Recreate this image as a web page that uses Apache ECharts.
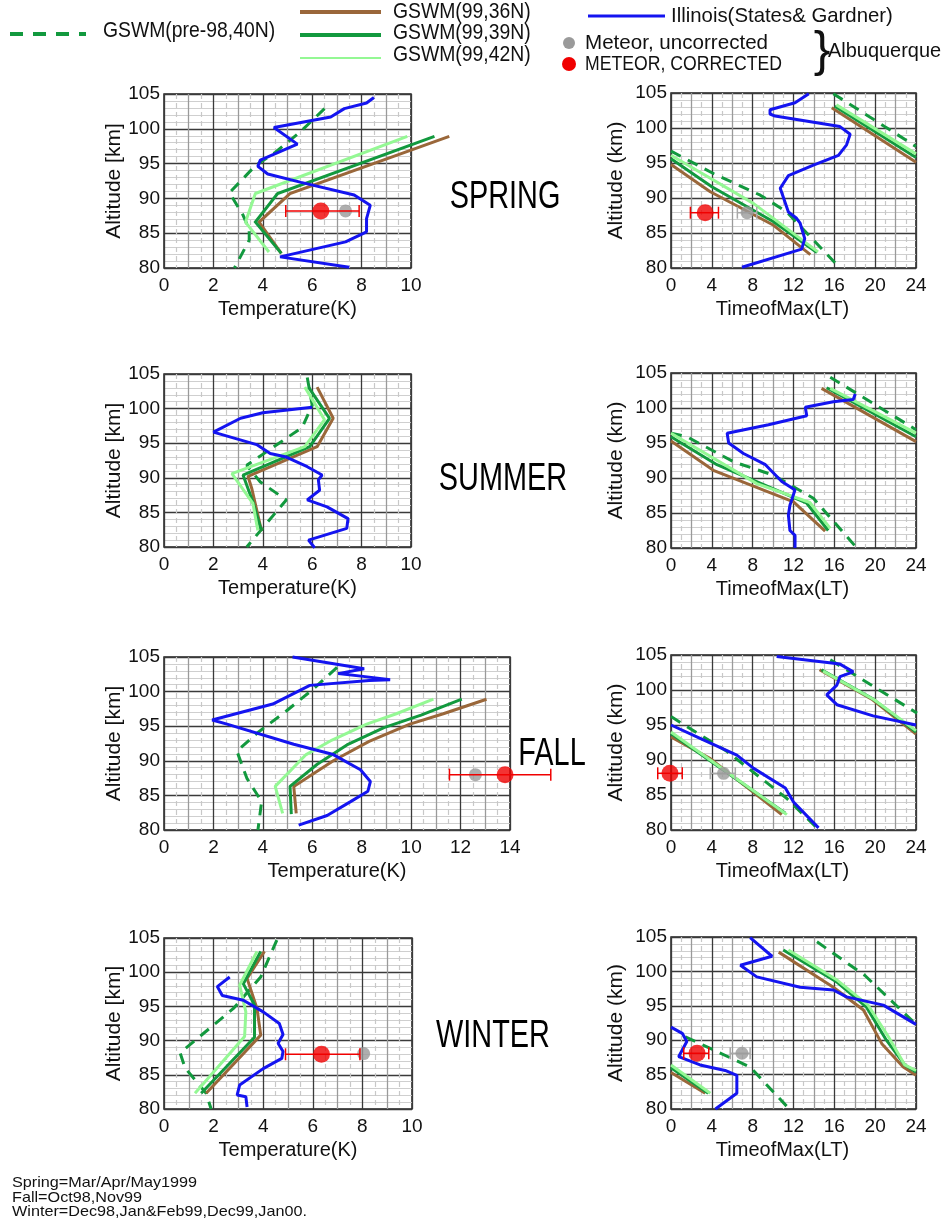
<!DOCTYPE html>
<html><head><meta charset="utf-8">
<script src="https://cdn.jsdelivr.net/npm/echarts@6/dist/echarts.min.js"></script>
<style>html,body{margin:0;padding:0;background:#fff}#c{width:948px;height:1225px}</style>
</head><body><div id="c"></div>
<script>
// ---------------- DATA ----------------
const seasonLabels = ['SPRING', 'SUMMER', 'FALL', 'WINTER'];
const tempTicks = [0, 2, 4, 6, 8, 10, 12, 14];
const timeTicks = [0, 4, 8, 12, 16, 20, 24];
const altitudeTicks = [80, 85, 90, 95, 100, 105];

// Spring, temperature amplitude [K, km]
const springTempIllinois = [[8.5,104.5],[8.2,103.7],[7.3,102.9],[6.75,101.7],[4.45,100.2],[5.4,97.8],[3.9,95.5],[3.8,94.6],[4.2,93.5],[5.55,92.3],[7.7,90.5],[8.35,89.0],[8.2,87.1],[8.2,85.2],[7.35,83.75],[4.7,81.6],[7.5,80.1]];
const springTempPre98 = [[6.5,102.9],[5.5,99.5],[4.5,96.6],[3.7,94.7],[2.65,90.8],[3.2,87.6],[3.45,85.5],[3.45,84],[2.85,80]];
const springTemp36N = [[11.55,98.9],[5.1,90.7],[3.85,86.6],[4.75,82.1]];
const springTemp39N = [[10.95,98.9],[4.6,90.7],[3.7,86.6],[4.75,82.1]];
const springTemp42N = [[9.85,98.9],[3.7,90.7],[3.3,86.6],[4.25,82.3]];
const springTempCorrected = [6.35, 88.2, 4.93, 7.9];
const springTempUncorrected = [7.35, 88.2];

// Spring, time of max [LT, km]  (segments)
const springTimeIllinois = [[[13.5,104.9],[12.15,103.6],[9.7,102.6],[9.7,102.0],[10.2,101.7],[16.55,100.2],[17.55,99.1],[17.2,97.6],[16.4,96.1],[13.95,94.7],[11.5,93.2],[10.7,91.4],[11.5,88.0],[12.3,87.1],[12.65,86.4],[13.1,84.2],[12.8,82.7],[6.95,80.1]]];
const springTime36N = [[[0,94.8],[3.85,90.9],[10.05,86.1],[13.65,81.9]],[[15.75,102.9],[24,95.1]]];
const springTime39N = [[[0,95.6],[4.0,91.6],[10.05,86.6],[14.3,82.2]],[[16.05,103.1],[24,95.8]]];
const springTime42N = [[[0,96.1],[8.1,89.2],[14.4,82.3]],[[16.2,103.3],[24,96.3]]];
const springTimePre98 = [[[0,96.7],[4.15,93.5],[8.75,90.4],[11.35,88],[16.55,80]],[[15.9,104.9],[24,97.35]]];
const springTimeCorrected = [3.35, 87.9, 1.9, 4.65];
const springTimeUncorrected = [7.45, 87.9, 6.5, 8.4];

// Summer, temperature
const summerTempIllinois = [[6.0,100.2],[4.0,99.4],[3.1,98.6],[2.0,96.6],[3.75,94.8],[4.3,93.5],[4.95,93.0],[5.8,91.6],[6.4,90.4],[6.25,89.7],[6.3,88.2],[5.8,86.8],[6.6,85.8],[7.45,84.1],[7.4,82.7],[5.85,81.0],[6.1,79.9]];
const summerTempPre98 = [[5.8,104.5],[6.0,100.5],[5.6,97.3],[4.7,95.1],[3.35,91.8],[3.9,89.4],[4.95,86.8],[3.35,80]];
const summerTemp36N = [[6.2,103.1],[6.85,98.6],[6.2,94.5],[3.4,90.2],[3.55,88.5],[3.95,82.3]];
const summerTemp39N = [[5.85,103.1],[6.7,98.6],[5.9,94.5],[3.2,90.4],[3.6,86.5],[3.95,82.3]];
const summerTemp42N = [[5.7,103.1],[6.5,98.4],[5.7,94.5],[2.75,90.6],[3.6,86.3],[3.8,82.4]];

// Summer, time of max
const summerTimeIllinois = [[[18.05,102.0],[17.85,101.2],[15.9,100.9],[13.15,100.1],[13.3,98.9],[9.55,97.6],[5.5,96.4],[5.65,95.0],[7.1,93.5],[9.25,91.9],[10.85,89.5],[12.15,88.3],[11.65,86.1],[11.5,84.7],[11.65,82.5],[12.15,81.8],[12.15,80]]];
const summerTime36N = [[[0,95.3],[4.15,91.1],[12.0,86.6],[15.1,82.4]],[[14.75,102.8],[24,95.2]]];
const summerTime39N = [[[0,95.9],[4.5,91.9],[13.3,86.4],[15.4,82.5]],[[15.25,102.9],[24,95.9]]];
const summerTime42N = [[[0,96.4],[8.4,89.2],[13.6,86.5],[15.6,82.8]],[[15.6,102.8],[24,96.4]]];
const summerTimePre98 = [[[0,96.4],[1.55,95.9],[6.15,92.3],[10.05,90.4],[13.95,87.1],[18.2,80]],[[15.6,104.4],[24,96.9]]];

// Fall, temperature
const fallTempIllinois = [[5.2,105],[8.1,103.3],[7.05,102.6],[8.05,102.2],[9.15,101.7],[8.3,101.6],[5.9,100.9],[4.4,98.2],[1.95,95.9],[2.55,95.3],[5.25,92.4],[6.85,90.9],[7.95,88.7],[8.35,87.0],[8.25,85.6],[7.55,84.1],[6.6,82.1],[5.45,80.7]];
const fallTempPre98 = [[7.0,103.5],[6.05,100.4],[4.95,97.2],[3.8,94.1],[2.95,91.4],[3.35,87.5],[3.95,84.1],[3.8,80]];
const fallTemp36N = [[13.05,98.9],[11.3,96.8],[9.95,95.3],[8.3,92.8],[6.85,90.0],[5.25,86.3],[5.35,82.4]];
const fallTemp39N = [[12.05,98.9],[10.4,96.6],[8.9,94.8],[7.4,92.3],[6.2,89.5],[5.1,86.3],[5.15,82.3]];
const fallTemp42N = [[10.9,98.9],[9.4,96.8],[8.2,95.3],[6.8,93.0],[5.75,90.9],[4.5,86.3],[4.8,82.4]];
const fallTempCorrected = [13.8, 88.0, 11.55, 15.65];
const fallTempUncorrected = [12.6, 88.0];

// Fall, time of max
const fallTimeIllinois = [[[0,95.0],[2.85,93.1],[6.45,90.7],[8.1,88.8],[11.2,86.0],[12.0,84.0],[14.45,80.3]],[[10.35,104.8],[16.55,103.7],[17.85,102.6],[16.55,101.9],[16.25,100.7],[15.25,99.3],[16.25,97.9],[19.8,96.3],[24,95.0]]];
const fallTime36N = [[[0,93.3],[3.85,90.2],[10.85,82.2]],[[14.55,102.9],[19.75,98.6],[24,93.7]]];
const fallTime39N = [[[0,93.8],[11.2,82.4]],[[14.75,102.9],[19.8,98.7],[24,94.0]]];
const fallTime42N = [[[0,94.0],[11.35,82.2]],[[14.9,102.7],[19.9,98.6],[24,94.2]]];
const fallTimePre98 = [[[0,96.2],[5.5,91.2],[11.35,84.5],[14.3,80.3]],[[15.6,104.3],[24.1,96.7]]];
const fallTimeCorrected = [-0.1, 88.1, -1.3, 1.1];
const fallTimeUncorrected = [5.15, 88.1, 3.85, 6.3];

// Winter, temperature
const winterTempIllinois = [[2.65,99.3],[2.15,97.9],[2.35,96.6],[3.2,95.9],[4.0,94.2],[4.65,92.5],[4.8,90.9],[4.6,89.6],[4.8,88.4],[4.75,87.4],[4.0,85.9],[3.05,83.5],[2.95,82.05],[3.3,81.8],[3.35,80.3]];
const winterTempPre98 = [[4.55,104.7],[3.9,99.3],[2.8,94.7],[0.65,88.2],[0.85,86.0],[1.7,82.3],[1.9,80]];
const winterTemp36N = [[4.05,103.05],[3.35,99.1],[3.75,94.7],[3.9,90.8],[1.7,82.3]];
const winterTemp39N = [[3.9,103.05],[3.2,98.3],[3.65,95.2],[3.65,90.5],[1.5,82.3]];
const winterTemp42N = [[3.75,103.05],[3.05,98.1],[3.3,94.2],[3.25,90.6],[1.25,82.3]];
const winterTempCorrected = [6.35, 88.0, 4.9, 7.9];
const winterTempUncorrected = [8.05, 88.1];

// Winter, time of max
const winterTimeIllinois = [[[7.75,104.9],[9.9,102.2],[6.8,100.9],[8.4,99.2],[12.65,97.7],[15.9,97.3],[17.2,96.3],[20.8,95.1],[24,92.3]],[[0,91.9],[1.1,91.0],[1.55,89.8],[0.75,87.6],[2.85,86.4],[5.3,85.6],[6.45,84.9],[6.45,82.3],[4.35,80]]];
const winterTime36N = [[[0,85.3],[3.35,82.3]],[[10.55,102.8],[15.9,97.7],[18.85,94.4],[20.65,89.5],[22.75,86.1],[24,84.9]]];
const winterTime39N = [[[0,86.0],[3.65,82.3]],[[11.0,103.1],[16.2,98.5],[19.15,94.8],[21.1,90.0],[22.9,86.4],[24,85.4]]];
const winterTime42N = [[[0,86.4],[3.85,82.3]],[[11.5,103.1],[16.3,98.7],[19.3,95.1],[21.3,90.5],[22.9,86.4],[24,85.6]]];
const winterTimePre98 = [[[1.4,90.5],[7.75,86.1],[11.65,79.9]],[[14.3,104.3],[19.0,99.4],[24,92.3]]];
const winterTimeCorrected = [2.55, 88.1, 1.25, 3.7];
const winterTimeUncorrected = [6.95, 88.1, 5.8, 7.75];

const footnotes = ['Spring=Mar/Apr/May1999', 'Fall=Oct98,Nov99', 'Winter=Dec98,Jan&Feb99,Dec99,Jan00.'];

// ---------------- BUILD ----------------
const C = { pre98: '#12993e', n36: '#9a673a', n39: '#12993e', n42: '#94f894', ill: '#1414f0', red: '#f00000', gray: '#9a9a9a' };
const FONT = "'Liberation Sans', Arial, sans-serif";

const panels = [
  { kind:'temp', grid:{left:164,top:94,width:247,height:174}, max:10, pre:[springTempPre98], n36:[springTemp36N], n39:[springTemp39N], n42:[springTemp42N], ill:[springTempIllinois], cor:springTempCorrected, unc:springTempUncorrected },
  { kind:'time', grid:{left:671,top:93,width:245,height:175}, max:24, pre:springTimePre98, n36:springTime36N, n39:springTime39N, n42:springTime42N, ill:springTimeIllinois, cor:springTimeCorrected, unc:springTimeUncorrected },
  { kind:'temp', grid:{left:164,top:374,width:247,height:173}, max:10, pre:[summerTempPre98], n36:[summerTemp36N], n39:[summerTemp39N], n42:[summerTemp42N], ill:[summerTempIllinois] },
  { kind:'time', grid:{left:671,top:373,width:245,height:175}, max:24, pre:summerTimePre98, n36:summerTime36N, n39:summerTime39N, n42:summerTime42N, ill:summerTimeIllinois },
  { kind:'temp', grid:{left:164,top:657,width:346,height:173}, max:14, pre:[fallTempPre98], n36:[fallTemp36N], n39:[fallTemp39N], n42:[fallTemp42N], ill:[fallTempIllinois], cor:fallTempCorrected, unc:fallTempUncorrected },
  { kind:'time', grid:{left:671,top:655,width:245,height:175}, max:24, pre:fallTimePre98, n36:fallTime36N, n39:fallTime39N, n42:fallTime42N, ill:fallTimeIllinois, cor:fallTimeCorrected, unc:fallTimeUncorrected },
  { kind:'temp', grid:{left:164,top:938,width:248,height:171}, max:10, pre:[winterTempPre98], n36:[winterTemp36N], n39:[winterTemp39N], n42:[winterTemp42N], ill:[winterTempIllinois], cor:winterTempCorrected, unc:winterTempUncorrected },
  { kind:'time', grid:{left:671,top:937,width:245,height:172}, max:24, pre:winterTimePre98, n36:winterTime36N, n39:winterTime39N, n42:winterTime42N, ill:winterTimeIllinois, cor:winterTimeCorrected, unc:winterTimeUncorrected }
];

const grids = [], xAxes = [], yAxes = [], series = [];

function errRender(color, lw, cap) {
  return function (params, api) {
    const a = api.coord([api.value(0), api.value(2)]);
    const b = api.coord([api.value(1), api.value(2)]);
    const st = { stroke: color, lineWidth: lw };
    return { type: 'group', children: [
      { type: 'line', shape: { x1: a[0], y1: a[1], x2: b[0], y2: b[1] }, style: st },
      { type: 'line', shape: { x1: a[0], y1: a[1] - cap, x2: a[0], y2: a[1] + cap }, style: st },
      { type: 'line', shape: { x1: b[0], y1: b[1] - cap, x2: b[0], y2: b[1] + cap }, style: st }
    ]};
  };
}

panels.forEach((p, i) => {
  grids.push(Object.assign({ show: true, borderColor: '#222', borderWidth: 1.5, backgroundColor: '#fff', z: 0 }, p.grid));
  const isTemp = p.kind === 'temp';
  const ticks = isTemp ? tempTicks : timeTicks;
  xAxes.push({
    type: 'value', gridIndex: i, min: 0, max: p.max, interval: isTemp ? 1 : 2,
    name: isTemp ? 'Temperature(K)' : 'TimeofMax(LT)', nameLocation: 'middle', nameGap: 31,
    nameTextStyle: { fontFamily: FONT, fontSize: 20, color: '#111', padding: isTemp ? 0 : [0, 22, 0, 0] },
    axisLine: { show: false }, axisTick: { show: false },
    axisLabel: { fontFamily: FONT, fontSize: 19, color: '#111', margin: 8,
      formatter: v => (ticks.indexOf(v) >= 0 ? String(v) : '') },
    splitLine: { show: true, lineStyle: { color: ['#3a3a3a', '#9a9a9a'], width: 1.3 } },
    minorTick: { show: false, splitNumber: 2 },
    minorSplitLine: { show: true, lineStyle: { color: '#c8c8c8', width: 1.2, type: [5, 4] } }
  });
  yAxes.push({
    type: 'value', gridIndex: i, min: 80, max: 105, interval: 5,
    name: isTemp ? 'Altitude [km]' : 'Altitude (km)', nameLocation: 'middle', nameGap: isTemp ? 38 : 44,
    nameTextStyle: { fontFamily: FONT, fontSize: 21, color: '#111' },
    axisLine: { show: false }, axisTick: { show: false },
    axisLabel: { fontFamily: FONT, fontSize: 19, color: '#111', margin: 4,
      formatter: v => (altitudeTicks.indexOf(v) >= 0 ? String(v) : '') },
    splitLine: { show: true, lineStyle: { color: '#3a3a3a', width: 1.3 } },
    minorTick: { show: false, splitNumber: 5 },
    minorSplitLine: { show: true, lineStyle: { color: '#cfcfcf', width: 1 } }
  });
  const addLines = (segs, color, width, dash, z) => {
    segs.forEach(seg => {
      const overflow = seg.some(pt => pt[0] < 0 || pt[0] > p.max);
      if (!overflow) {
        series.push({
          type: 'line', xAxisIndex: i, yAxisIndex: i, data: seg, showSymbol: false, symbol: 'none',
          clip: false, z: z, silent: true, animation: false,
          lineStyle: { color: color, width: width, type: dash ? dash : 'solid' }
        });
      } else {
        // segment runs past the axis end: draw it unclipped through the axis coordinates
        series.push({
          type: 'custom', xAxisIndex: i, yAxisIndex: i, data: seg, z: z, silent: true, animation: false, clip: false,
          renderItem: (params, api) => params.dataIndex !== 0 ? null : {
            type: 'polyline', shape: { points: seg.map(pt => api.coord(pt)) },
            style: { stroke: color, lineWidth: width, fill: null, lineDash: dash || null }
          }
        });
      }
    });
  };
  addLines(p.pre, C.pre98, 3, [11, 8], 3);
  addLines(p.n36, C.n36, 3, null, 4);
  addLines(p.n39, C.n39, 3, null, 5);
  addLines(p.n42, C.n42, 3, null, 6);
  addLines(p.ill, C.ill, 3, null, 7);
  if (p.unc) {
    if (p.unc.length > 2) {
      series.push({ type: 'custom', xAxisIndex: i, yAxisIndex: i, z: 8, clip: false, animation: false,
        data: [[p.unc[2], p.unc[3], p.unc[1]]], renderItem: errRender('#a8a8a8', 1.5, 6) });
    }
    series.push({ type: 'scatter', xAxisIndex: i, yAxisIndex: i, z: 9, clip: false, animation: false,
      data: [[p.unc[0], p.unc[1]]], symbol: 'circle', symbolSize: 13, itemStyle: { color: C.gray } });
  }
  if (p.cor) {
    series.push({ type: 'custom', xAxisIndex: i, yAxisIndex: i, z: 10, clip: false, animation: false,
      data: [[p.cor[2], p.cor[3], p.cor[1]]], renderItem: errRender(C.red, 1.5, 6) });
    series.push({ type: 'scatter', xAxisIndex: i, yAxisIndex: i, z: 11, clip: false, animation: false,
      data: [[p.cor[0], p.cor[1]]], symbol: 'circle', symbolSize: 17, itemStyle: { color: C.red } });
  }
});

const titlePos = [[505, 198], [503, 480], [552, 755], [493, 1037]];
const graphic = [];
seasonLabels.forEach((s, k) => graphic.push({ type: 'text', x: titlePos[k][0], y: titlePos[k][1], z: 20, scaleX: 0.76,
  style: { text: s, fill: '#000', font: "38px " + FONT, textAlign: 'center', textVerticalAlign: 'middle' } }));

// legend
const legTxt = (t, x, y, size, sx) => ({ type: 'text', x: x, y: y, z: 20, scaleX: sx || 0.9,
  style: { text: t, fill: '#111', font: (size || 20) + 'px ' + FONT, textAlign: 'left', textVerticalAlign: 'middle' } });
const legLine = (x1, y, x2, color, w, dash) => ({ type: 'line', z: 20,
  shape: { x1: x1, y1: y, x2: x2, y2: y }, style: { stroke: color, lineWidth: w, lineDash: dash || null } });
graphic.push(legLine(10, 34, 86, C.pre98, 4, [13, 10]));
graphic.push(legTxt('GSWM(pre-98,40N)', 103, 31, 22, 0.88));
graphic.push(legLine(300, 12, 381, C.n36, 4));
graphic.push(legTxt('GSWM(99,36N)', 393, 12, 22, 0.88));
graphic.push(legLine(300, 35, 381, C.n39, 4));
graphic.push(legTxt('GSWM(99,39N)', 393, 33, 22, 0.88));
graphic.push(legLine(300, 58, 381, C.n42, 2));
graphic.push(legTxt('GSWM(99,42N)', 393, 55, 22, 0.88));
graphic.push(legLine(588, 16, 665, C.ill, 3));
graphic.push(legTxt('Illinois(States& Gardner)', 671, 16, 21, 0.97));
graphic.push({ type: 'circle', z: 20, shape: { cx: 569, cy: 43, r: 6 }, style: { fill: C.gray } });
graphic.push(legTxt('Meteor, uncorrected', 585, 43, 21, 0.98));
graphic.push({ type: 'circle', z: 20, shape: { cx: 569, cy: 64, r: 7 }, style: { fill: C.red } });
graphic.push(legTxt('METEOR, CORRECTED', 585, 64, 21, 0.84));
graphic.push({ type: 'text', x: 822, y: 52, z: 20, style: { text: '}', fill: '#111', font: "50px " + FONT, textAlign: 'center', textVerticalAlign: 'middle' } });
graphic.push(legTxt('Albuquerque', 828, 51, 21, 0.95));

footnotes.forEach((t, k) => graphic.push({ type: 'text', x: 12, y: 1183 + k * 14.5, z: 20, scaleX: 1.08,
  style: { text: t, fill: '#111', font: '15px ' + FONT, textAlign: 'left', textVerticalAlign: 'middle' } }));

const chart = echarts.init(document.getElementById('c'), null, { renderer: 'canvas' });
chart.setOption({ animation: false, backgroundColor: '#fff', grid: grids, xAxis: xAxes, yAxis: yAxes, series: series, graphic: graphic });
</script></body></html>
